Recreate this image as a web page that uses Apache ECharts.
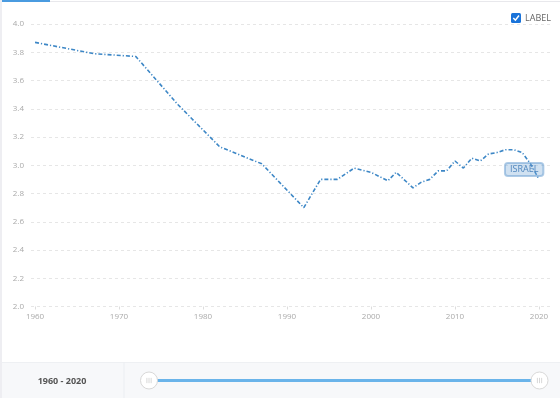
<!DOCTYPE html>
<html>
<head>
<meta charset="utf-8">
<script src="https://cdn.jsdelivr.net/npm/echarts@6/dist/echarts.min.js"></script>
<style>
  html, body { margin: 0; padding: 0; background: #fff; }
  #main { width: 560px; height: 398px; }
</style>
</head>
<body>
<div id="main"></div>
<script>
// years and fertility rate
var years = [1960, 1967, 1972, 1977, 1982, 1987, 1992, 1994, 1996, 1998, 2000, 2002, 2003, 2005, 2006, 2007, 2008, 2009, 2010, 2011, 2012, 2013, 2014, 2015, 2016, 2017, 2018, 2019, 2020];
var rates = [3.87, 3.79, 3.77, 3.43, 3.13, 3.01, 2.70, 2.90, 2.90, 2.98, 2.95, 2.89, 2.95, 2.84, 2.88, 2.90, 2.96, 2.96, 3.03, 2.98, 3.05, 3.03, 3.08, 3.09, 3.11, 3.11, 3.09, 3.01, 2.90];
var yearTicks = [1960, 1970, 1980, 1990, 2000, 2010, 2020];
var seriesName = 'ISRAEL';
var rangeText = '1960 - 2020';

var font = '"Open Sans", "Noto Sans", sans-serif';

var myChart = echarts.init(document.getElementById('main'));

var option = {
    animation: false,
    textStyle: { fontFamily: font },
    grid: { left: 31, right: 7, top: 24, bottom: 91.5 },
    xAxis: {
        type: 'value',
        min: 1959.52,
        max: 2021.67,
        axisLine: { show: false },
        axisTick: { show: true, length: 3, lineStyle: { color: '#ddd' }, customValues: yearTicks },
        axisLabel: {
            color: '#aaa', fontSize: 8, margin: 6, customValues: yearTicks,
            formatter: function (v) { return String(v); }
        },
        splitLine: { show: false }
    },
    yAxis: {
        type: 'value',
        min: 2,
        max: 4,
        interval: 0.2,
        axisLine: { show: false },
        axisTick: { show: false },
        axisLabel: {
            color: '#aaa', fontSize: 8, margin: 7,
            formatter: function (v) { return v.toFixed(1); }
        },
        splitLine: { lineStyle: { color: '#e6e6e6', type: [3, 3] } }
    },
    dataZoom: [{
        type: 'slider',
        xAxisIndex: 0,
        filterMode: 'none',
        left: 146.5,
        right: 21,
        top: 379,
        height: 3,
        start: 0,
        end: 100,
        showDetail: false,
        showDataShadow: false,
        brushSelect: false,
        moveHandleSize: 0,
        backgroundColor: 'transparent',
        borderColor: 'transparent',
        fillerColor: '#6ab4ea',
        handleIcon: 'path://M0,-8A8,8,0,1,1,0,8A8,8,0,1,1,0,-8Z M-2,-2.5L-2,2.5 M0,-2.5L0,2.5 M2,-2.5L2,2.5',
        handleSize: 17,
        handleStyle: { color: '#fff', borderColor: '#d8d8d8', borderWidth: 1 },
        emphasis: { handleStyle: { borderColor: '#d8d8d8' } }
    }],
    series: [{
        name: seriesName,
        type: 'line',
        data: years.map(function (y, i) { return [y, rates[i]]; }),
        showSymbol: false,
        lineStyle: { color: '#3d87c6', width: 1.6, type: [4, 2, 1.2, 2] },
        endLabel: {
            show: true,
            formatter: seriesName,
            offset: [-42, -10],
            color: '#4f86bd',
            fontSize: 9,
            backgroundColor: 'rgba(120,170,215,0.35)',
            borderColor: 'rgba(110,160,210,0.55)',
            borderWidth: 1,
            borderRadius: 3,
            padding: [2, 5]
        }
    }],
    graphic: [
        // top strip and tab marker
        { type: 'rect', shape: { x: 0, y: 1, width: 560, height: 1 }, style: { fill: '#e8e8ec' } },
        { type: 'rect', shape: { x: 0, y: 0, width: 50, height: 2 }, style: { fill: '#4a9be0' } },
        // left edge
        { type: 'rect', shape: { x: 0, y: 0, width: 2, height: 398 }, style: { fill: '#eeeef2' } },
        // label checkbox
        { type: 'rect', shape: { x: 511, y: 13, width: 10, height: 10, r: 1.5 }, style: { fill: '#1a73d9' } },
        { type: 'polyline', shape: { points: [[513.3, 18], [515.4, 20.2], [519, 15.5]] }, style: { stroke: '#fff', lineWidth: 1.5, fill: null } },
        { type: 'text', x: 525, y: 18, style: { text: 'LABEL', fill: '#666', font: '9px ' + font, verticalAlign: 'middle' } },
        // bottom range panel
        { type: 'rect', z: -1, shape: { x: 0, y: 362, width: 560, height: 36 }, style: { fill: '#f7f8fa' } },
        { type: 'rect', z: -1, shape: { x: 0, y: 362, width: 560, height: 1 }, style: { fill: '#eef0f3' } },
        { type: 'rect', z: -1, shape: { x: 123.5, y: 362, width: 1, height: 36 }, style: { fill: '#eceef1' } },
        { type: 'text', x: 62, y: 381, style: { text: rangeText, fill: '#555', font: 'bold 9px ' + font, align: 'center', verticalAlign: 'middle' } }
    ]
};

option && myChart.setOption(option);
</script>
</body>
</html>
